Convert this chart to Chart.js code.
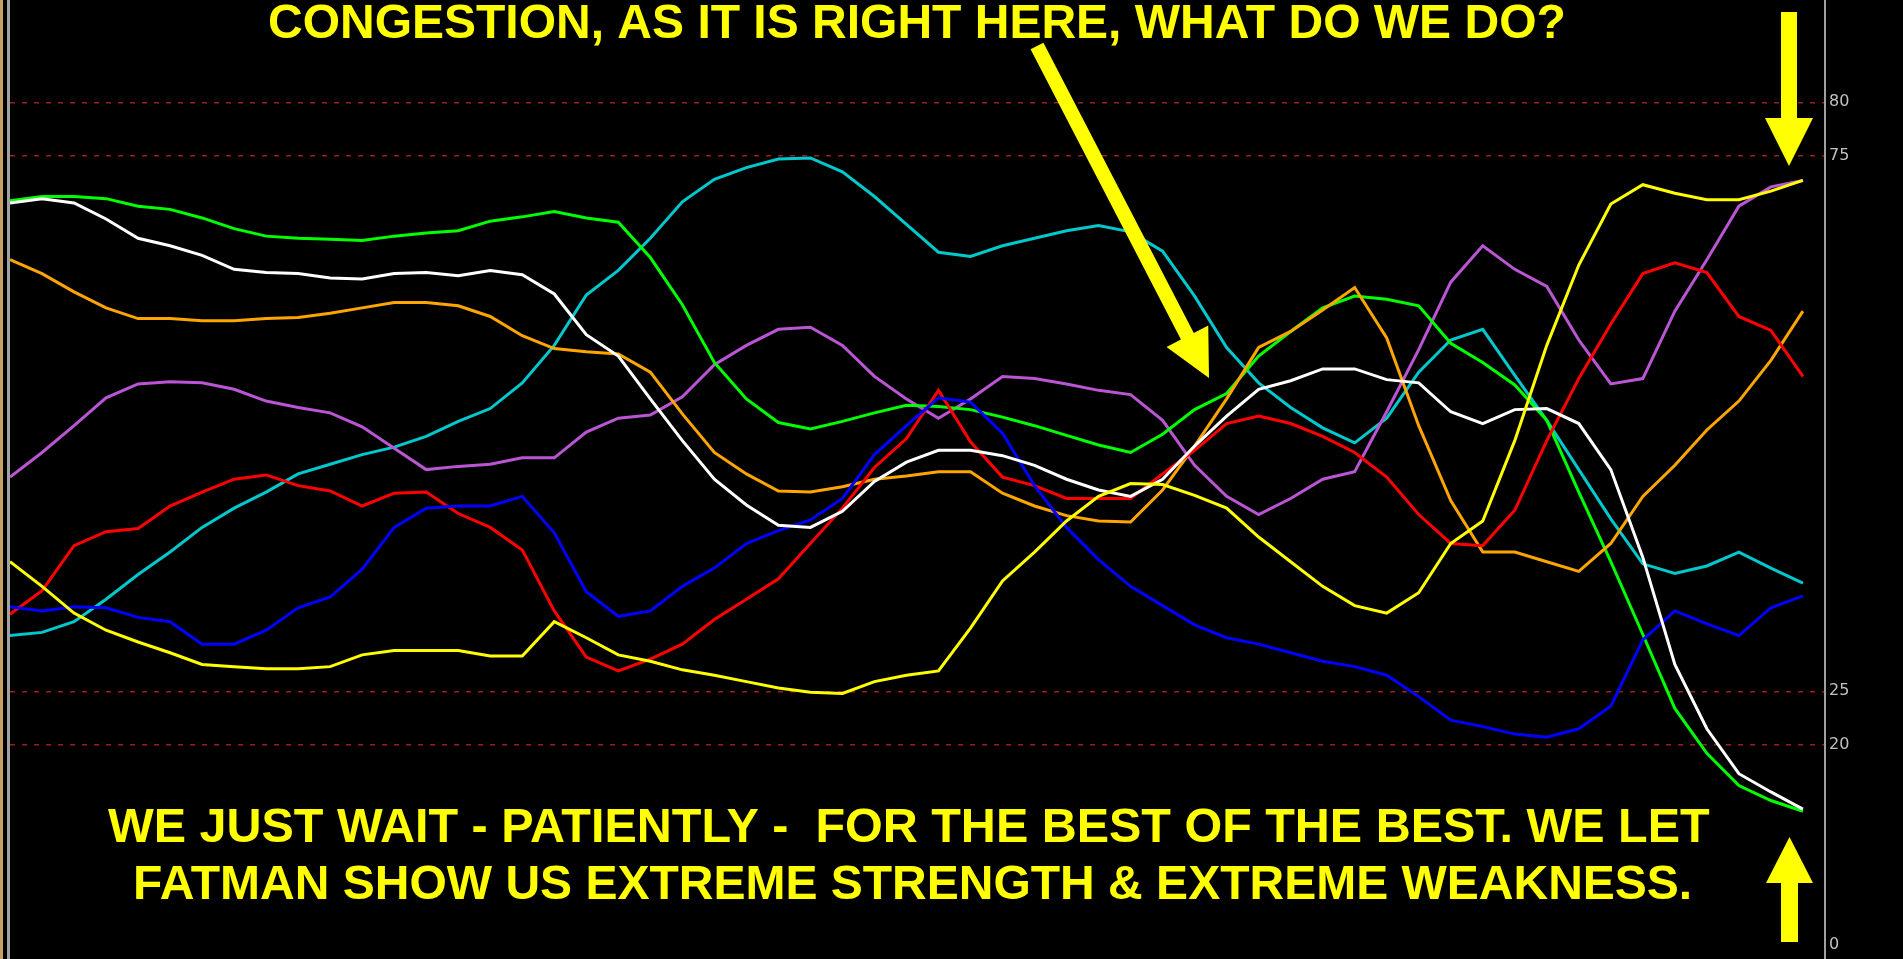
<!DOCTYPE html>
<html>
<head>
<meta charset="utf-8">
<script src="https://cdn.jsdelivr.net/npm/chart.js@4.4.1/dist/chart.umd.min.js"></script>
<style>
  html, body { margin: 0; padding: 0; background: #000; overflow: hidden; }
  #wrap { width: 1903px; height: 959px; position: relative; }
</style>
</head>
<body>
<div id="wrap"><canvas id="strengthChart"></canvas></div>
<script>
// bar index along the time axis
const bars = Array.from({ length: 57 }, (_, i) => i);
const yTicks = [0, 20, 25, 75, 80];

// strength lines, one value per bar
const white = [70.6, 71.0, 70.6, 69.1, 67.3, 66.6, 65.7, 64.4, 64.1, 64.0,
  63.6, 63.5, 64.0, 64.1, 63.8, 64.3, 63.9, 62.1, 58.3,
  56.3, 52.3, 48.4, 44.8, 42.4, 40.5, 40.3, 41.8, 44.6, 46.4,
  47.5, 47.5, 47.0, 46.1, 44.8, 43.8, 43.2, 44.8, 47.9,
  50.7, 53.2, 54.0, 55.1, 55.1, 54.1, 53.8, 51.1, 50.0,
  51.3, 51.4, 50.0, 45.7, 37.5, 27.5, 21.5, 17.3, 15.6, 14.0];
const green = [70.8, 71.2, 71.2, 71.0, 70.3, 70.0, 69.2, 68.2, 67.5, 67.3,
  67.2, 67.1, 67.5, 67.8, 68.0, 68.9, 69.3, 69.8, 69.2,
  68.8, 65.5, 61.1, 55.7, 52.3, 50.1, 49.5, 50.2, 51.0, 51.7,
  51.6, 51.3, 50.6, 49.8, 48.9, 48.0, 47.3, 49.0, 51.3,
  52.8, 56.3, 58.6, 60.8, 61.9, 61.6, 61.0, 57.5, 55.7,
  53.6, 50.3, 43.6, 37.1, 30.3, 23.4, 19.2, 16.2, 14.8, 13.8];
const orange = [65.3, 64.0, 62.3, 60.8, 59.8, 59.8, 59.6, 59.6, 59.8, 59.9,
  60.3, 60.8, 61.3, 61.3, 61.0, 60.0, 58.2, 57.0, 56.7,
  56.5, 54.8, 50.9, 47.3, 45.3, 43.7, 43.6, 44.1, 44.8, 45.1,
  45.5, 45.5, 43.5, 42.3, 41.4, 40.9, 40.8, 43.8, 47.9,
  52.3, 57.1, 58.6, 60.6, 62.7, 58.0, 49.8, 42.8, 38.0,
  38.0, 37.1, 36.2, 38.8, 43.2, 46.1, 49.4, 52.1, 55.9, 60.5];
const purple = [45.0, 47.3, 49.8, 52.4, 53.7, 53.9, 53.8, 53.2, 52.1, 51.5,
  51.0, 49.7, 47.7, 45.7, 46.0, 46.2, 46.8, 46.8, 49.2,
  50.5, 50.8, 52.5, 55.5, 57.3, 58.8, 59.0, 57.3, 54.4, 52.3,
  50.5, 52.3, 54.4, 54.2, 53.7, 53.1, 52.7, 50.3, 46.1,
  43.2, 41.5, 43.0, 44.8, 45.5, 51.1, 56.9, 63.2, 66.6,
  64.4, 62.8, 57.8, 53.7, 54.2, 60.5, 65.3, 70.3, 72.1, 72.7];
const cyan = [30.2, 30.5, 31.5, 33.6, 35.9, 38.0, 40.3, 42.1, 43.6, 45.3,
  46.2, 47.1, 47.8, 48.8, 50.2, 51.4, 53.8, 57.3, 62.0,
  64.3, 67.3, 70.7, 72.8, 73.9, 74.7, 74.8, 73.5, 71.2, 68.6,
  66.0, 65.6, 66.6, 67.3, 68.0, 68.5, 67.9, 66.1, 61.9,
  57.1, 53.8, 51.5, 49.6, 48.2, 50.5, 54.8, 57.8, 58.8,
  54.5, 50.3, 45.7, 41.1, 36.9, 36.0, 36.7, 38.0, 36.5, 35.1];
const red = [32.2, 34.4, 38.6, 39.9, 40.2, 42.3, 43.6, 44.8, 45.2, 44.2,
  43.7, 42.3, 43.5, 43.6, 41.6, 40.3, 38.2, 32.5, 28.2,
  26.9, 28.0, 29.4, 31.7, 33.6, 35.5, 38.8, 42.1, 45.9, 48.6,
  53.1, 48.3, 45.0, 44.2, 43.0, 43.0, 43.0, 45.3, 47.5,
  50.0, 50.7, 50.0, 48.8, 47.3, 45.0, 41.5, 38.8, 38.6,
  41.9, 48.4, 54.2, 59.3, 64.0, 65.0, 64.1, 60.0, 58.7, 54.4];
const blue = [32.9, 32.5, 32.9, 32.8, 31.9, 31.5, 29.4, 29.4, 30.7, 32.8,
  33.8, 36.4, 40.3, 42.1, 42.3, 42.3, 43.2, 39.8, 34.3,
  32.0, 32.5, 34.8, 36.5, 38.8, 40.0, 41.0, 43.0, 47.1, 49.8,
  52.4, 52.0, 49.1, 44.2, 40.3, 37.3, 34.8, 33.0, 31.2,
  30.0, 29.4, 28.6, 27.8, 27.3, 26.5, 24.5, 22.3, 21.7,
  21.0, 20.7, 21.5, 23.6, 29.8, 32.5, 31.3, 30.2, 32.8, 33.9];
const yellow = [37.1, 34.8, 32.3, 30.7, 29.6, 28.6, 27.5, 27.3, 27.1, 27.1,
  27.3, 28.4, 28.8, 28.8, 28.8, 28.3, 28.3, 31.5, 30.0,
  28.4, 27.8, 27.0, 26.5, 25.9, 25.3, 24.9, 24.8, 25.9, 26.5,
  26.9, 30.9, 35.3, 38.0, 40.9, 43.2, 44.4, 44.3, 43.3,
  42.1, 39.4, 37.1, 34.8, 33.0, 32.3, 34.2, 38.8, 40.9,
  48.4, 57.3, 64.8, 70.5, 72.3, 71.5, 70.9, 70.9, 71.7, 72.7];

const titleTop = 'CONGESTION, AS IT IS RIGHT HERE, WHAT DO WE DO?';
const noteLines = [
  'WE JUST WAIT - PATIENTLY -  FOR THE BEST OF THE BEST. WE LET',
  'FATMAN SHOW US EXTREME STRENGTH & EXTREME WEAKNESS.'
];

const gridRed = '#9a1e1e';
const axisGrey = '#a0a0a0';
const marker = '#ffff00';

function arrow(ctx, x1, y1, x2, y2, shaft, headW, headL) {
  const len = Math.hypot(x2 - x1, y2 - y1);
  const ux = (x2 - x1) / len, uy = (y2 - y1) / len;
  const px = -uy, py = ux;
  const bx = x2 - ux * headL, by = y2 - uy * headL;
  ctx.beginPath();
  ctx.moveTo(x1 + px * shaft / 2, y1 + py * shaft / 2);
  ctx.lineTo(bx + px * shaft / 2, by + py * shaft / 2);
  ctx.lineTo(bx + px * headW / 2, by + py * headW / 2);
  ctx.lineTo(x2, y2);
  ctx.lineTo(bx - px * headW / 2, by - py * headW / 2);
  ctx.lineTo(bx - px * shaft / 2, by - py * shaft / 2);
  ctx.lineTo(x1 - px * shaft / 2, y1 - py * shaft / 2);
  ctx.closePath();
  ctx.fill();
}

// background, left frame, notes and arrows
const overlay = {
  id: 'overlay',
  beforeDraw(chart) {
    const ctx = chart.ctx;
    ctx.save();
    ctx.fillStyle = '#000';
    ctx.fillRect(0, 0, chart.width, chart.height);
    ctx.fillStyle = '#c8a064';
    ctx.fillRect(0, 0, 3, chart.height);
    ctx.fillStyle = axisGrey;
    ctx.fillRect(7, 0, 3, chart.height);
    ctx.restore();
  },
  afterDraw(chart) {
    const ctx = chart.ctx;
    ctx.save();
    ctx.fillStyle = marker;
    ctx.font = 'bold 48px "Liberation Sans", Arial, sans-serif';
    ctx.textBaseline = 'alphabetic';
    ctx.fillText(titleTop, 268, 38);
    ctx.save();
    ctx.translate(108, 842);
    ctx.scale(1.01, 1);
    ctx.fillText(noteLines[0], 0, 0);
    ctx.restore();
    ctx.fillText(noteLines[1], 133, 899);
    arrow(ctx, 1037, 46, 1209, 378, 14.5, 47, 47);
    arrow(ctx, 1789, 12, 1789, 166, 16, 48, 48);
    arrow(ctx, 1789.5, 942, 1789.5, 837, 17, 47, 46);
    ctx.restore();
  }
};

const line = (data, color) => ({ data, borderColor: color, borderWidth: 3, pointRadius: 0, tension: 0, fill: false });

new Chart(document.getElementById('strengthChart'), {
  type: 'line',
  data: {
    labels: bars,
    datasets: [
      line(yellow, '#ffff00'),
      line(white, '#ffffff'),
      line(blue, '#0000ff'),
      line(red, '#ff0000'),
      line(orange, '#ffa500'),
      line(green, '#00ff00'),
      line(purple, '#ba55d3'),
      line(cyan, '#00c8cc')
    ]
  },
  options: {
    responsive: true,
    maintainAspectRatio: false,
    animation: false,
    layout: { padding: { left: 10, right: 0, top: 0, bottom: 0 } },
    plugins: { legend: { display: false }, tooltip: { enabled: false } },
    scales: {
      x: { type: 'linear', min: 0, max: 56.69, display: false },
      y: {
        position: 'right',
        min: 0,
        max: 89.55,
        afterBuildTicks: s => { s.ticks = yTicks.map(v => ({ value: v })); },
        afterFit: s => { s.width = 78; s.paddingTop = 0; s.paddingBottom = 0; },
        grid: {
          color: c => (c.tick && c.tick.value === 0) ? 'rgba(0,0,0,0)' : gridRed,
          lineWidth: 1.5,
          drawTicks: false
        },
        border: { display: true, color: axisGrey, width: 2, dash: [5, 7] },
        ticks: {
          color: '#c0c0c0',
          padding: 4,
          autoSkip: false,
          font: { family: 'DejaVu Sans', size: 16, lineHeight: 1.75 },
          callback: v => v === 0 ? ['0', ''] : String(v)
        }
      }
    }
  },
  plugins: [overlay]
});
</script>
</body>
</html>
